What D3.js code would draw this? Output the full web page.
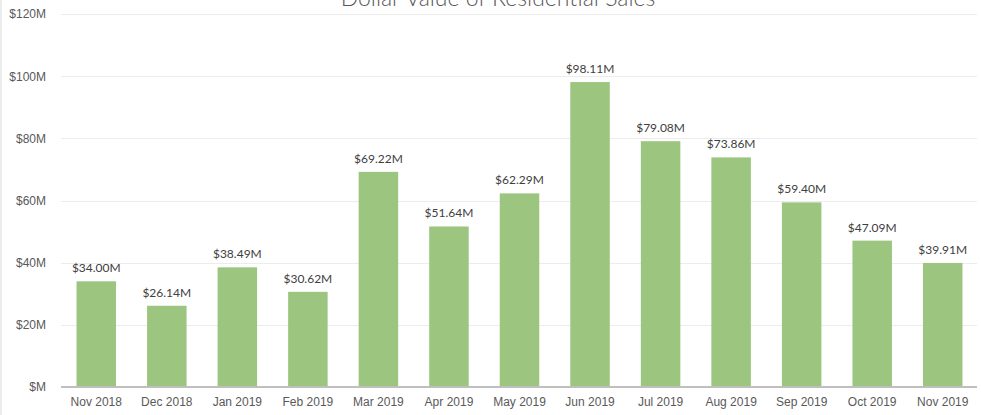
<!DOCTYPE html>
<html>
<head>
<meta charset="utf-8">
<script src="https://cdn.jsdelivr.net/npm/d3@7"></script>
<style>
  html, body { margin: 0; padding: 0; background: #fff; }
  svg { display: block; font-family: Lato, "Open Sans", sans-serif; }
</style>
</head>
<body>
<svg width="981" height="415"></svg>
<script>
  // DATA

  var months = ["Nov 2018", "Dec 2018", "Jan 2019", "Feb 2019", "Mar 2019", "Apr 2019",
    "May 2019", "Jun 2019", "Jul 2019", "Aug 2019", "Sep 2019", "Oct 2019", "Nov 2019"];
  var sales = [34.00, 26.14, 38.49, 30.62, 69.22, 51.64, 62.29, 98.11, 79.08, 73.86, 59.40, 47.09, 39.91];
  var yTicks = [0, 20, 40, 60, 80, 100, 120];
  var title = "Dollar Value of Residential Sales";

  // SETUP

  var svg = d3.select("svg"),
    margin = { top: 14, right: 3, bottom: 28, left: 61 },
    width = 981 - margin.left - margin.right,
    height = 415 - margin.top - margin.bottom;

  var x = d3.scaleBand().domain(months).range([0, width]).paddingInner(0.44).paddingOuter(0.22),
    y = d3.scaleLinear().domain([0, 120]).range([height, 0]);

  // left frame edge
  svg.append("line")
    .attr("x1", 1).attr("x2", 1).attr("y1", 0).attr("y2", 415)
    .attr("stroke", "#d9d9d9");

  var g = svg.append("g")
    .attr("transform", "translate(" + margin.left + "," + margin.top + ")");

  // gridlines
  g.selectAll(".grid")
    .data(yTicks.slice(1))
    .enter().append("line")
    .attr("class", "grid")
    .attr("x1", 0).attr("x2", width - 1)
    .attr("y1", function (d) { return Math.round(y(d)) + 0.5; })
    .attr("y2", function (d) { return Math.round(y(d)) + 0.5; })
    .attr("stroke", "#ececec");

  // y axis labels
  var yAxis = g.append("g")
    .call(d3.axisLeft(y).tickValues(yTicks).tickSize(0).tickPadding(15)
      .tickFormat(function (d) { return "$" + (d === 0 ? "" : d) + "M"; }));
  yAxis.select(".domain").remove();
  yAxis.selectAll("text")
    .attr("fill", "#595959")
    .style("font-size", "12px");

  // bars
  g.selectAll(".bar")
    .data(sales)
    .enter().append("rect")
    .attr("class", "bar")
    .attr("x", function (d, i) { return x(months[i]); })
    .attr("y", function (d) { return y(d); })
    .attr("width", x.bandwidth())
    .attr("height", function (d) { return height - y(d); })
    .attr("fill", "#9cc580");

  // value labels
  g.selectAll(".label")
    .data(sales)
    .enter().append("text")
    .attr("class", "label")
    .attr("x", function (d, i) { return x(months[i]) + x.bandwidth() / 2; })
    .attr("y", function (d) { return y(d) - 9; })
    .attr("text-anchor", "middle")
    .attr("fill", "#404040")
    .style("font-size", "12px")
    .text(function (d) { return "$" + d.toFixed(2) + "M"; });

  // x axis
  var xAxis = g.append("g")
    .attr("transform", "translate(0," + height + ")")
    .call(d3.axisBottom(x).tickSize(0).tickPadding(10));
  xAxis.select(".domain")
    .attr("stroke", "#bfbfbf")
    .attr("stroke-width", 2)
    .attr("d", "M0,0H" + (width - 1));
  xAxis.selectAll("text")
    .attr("fill", "#595959")
    .style("font-size", "12px");

  // title (partly cut off at top, as in the original)
  svg.append("text")
    .attr("x", 498)
    .attr("y", 6)
    .attr("text-anchor", "middle")
    .attr("fill", "#595959")
    .style("font-size", "23px")
    .style("font-weight", 300)
    .text(title);
</script>
</body>
</html>
